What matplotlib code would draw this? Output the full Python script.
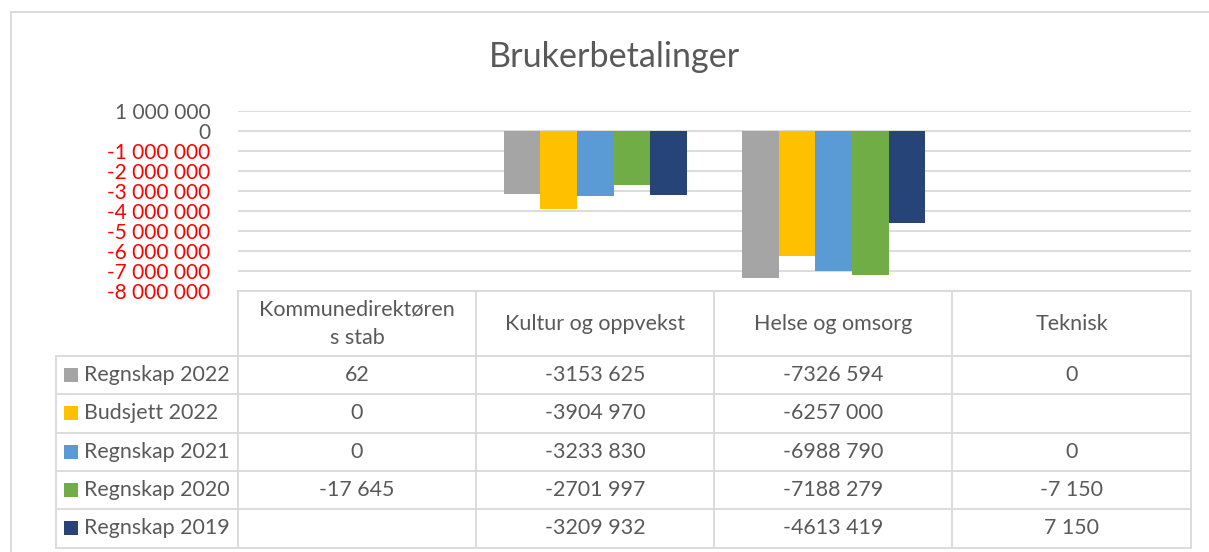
import matplotlib
matplotlib.use("Agg")
import matplotlib.pyplot as plt
from matplotlib.lines import Line2D
from matplotlib.patches import Rectangle
import numpy as np

plt.rcParams['font.family'] = ['Lato', 'DejaVu Sans']

categories = ["Kommunedirektøren\ns stab", "Kultur og oppvekst", "Helse og omsorg", "Teknisk"]
series_names = ["Regnskap 2022", "Budsjett 2022", "Regnskap 2021", "Regnskap 2020", "Regnskap 2019"]
regnskap_2022 = [62, -3153625, -7326594, 0]
budsjett_2022 = [0, -3904970, -6257000, None]
regnskap_2021 = [0, -3233830, -6988790, 0]
regnskap_2020 = [-17645, -2701997, -7188279, -7150]
regnskap_2019 = [None, -3209932, -4613419, 7150]
series_values = [regnskap_2022, budsjett_2022, regnskap_2021, regnskap_2020, regnskap_2019]
colors = ["#A5A5A5", "#FFC000", "#5B9BD5", "#70AD47", "#264478"]
yticks = list(range(-8000000, 1000001, 1000000))

W, H = 1209, 552
fig = plt.figure(figsize=(W / 100, H / 100), dpi=100)
fig.patch.set_facecolor("white")

def fx(x):
    return x / W

def fy(y):
    return 1 - y / H

# plot area
left_px, right_px, top_px, bot_px = 238, 1191, 111, 291
ax = fig.add_axes([fx(left_px), fy(bot_px), fx(right_px - left_px), (bot_px - top_px) / H])
ax.set_xlim(-0.5, len(categories) - 0.5)
ax.set_ylim(yticks[0], yticks[-1])
for s in ax.spines.values():
    s.set_visible(False)
ax.set_yticks(yticks)
ax.yaxis.grid(True, color="#D9D9D9", linewidth=1.3)
ax.set_axisbelow(True)
ax.set_xticks([])
ax.tick_params(axis="y", length=0, pad=20)

def fmt_tick(v):
    s = f"{abs(v):,}".replace(",", " ")
    return ("-" if v < 0 else "") + s

ax.set_yticklabels([fmt_tick(v) for v in yticks], fontsize=15)
for lab, v in zip(ax.get_yticklabels(), yticks):
    lab.set_color("#FF0000" if v < 0 else "#595959")

n = len(series_values)
bw = 0.154
x = np.arange(len(categories))
for i, (vals, c) in enumerate(zip(series_values, colors)):
    v = np.array([np.nan if a is None else a for a in vals], dtype=float)
    ax.bar(x + (i - (n - 1) / 2) * bw, v, width=bw, color=c, linewidth=0, zorder=3)

# title
fig.text(fx(615), fy(57), "Brukerbetalinger", ha="center", va="center", fontsize=24.6, color="#595959")

# outer frame
gc = "#D9D9D9"
fig.add_artist(Line2D([fx(11), fx(11)], [fy(12), fy(H + 5)], color=gc, linewidth=1.3))
fig.add_artist(Line2D([fx(11), fx(W + 5)], [fy(12), fy(12)], color=gc, linewidth=1.3))

# data table
col_edges = [238, 476, 714, 952, 1191]
leg_left = 56
hdr_top, hdr_bot = 291, 356
row_h = 38.3
row_edges = [hdr_bot + k * row_h for k in range(n + 1)]
tc = "#595959"
tl = 1.3

fig.add_artist(Line2D([fx(col_edges[0]), fx(col_edges[-1])], [fy(hdr_top)] * 2, color=gc, linewidth=tl))
for yb in row_edges:
    fig.add_artist(Line2D([fx(leg_left), fx(col_edges[-1])], [fy(yb)] * 2, color=gc, linewidth=tl))
for xe in col_edges:
    fig.add_artist(Line2D([fx(xe)] * 2, [fy(hdr_top), fy(row_edges[-1])], color=gc, linewidth=tl))
fig.add_artist(Line2D([fx(leg_left)] * 2, [fy(row_edges[0]), fy(row_edges[-1])], color=gc, linewidth=tl))

for j, cat in enumerate(categories):
    cx = (col_edges[j] + col_edges[j + 1]) / 2
    fig.text(fx(cx), fy((hdr_top + hdr_bot) / 2), cat, ha="center", va="center",
             fontsize=15.5, color=tc, linespacing=1.55)

def fmt_cell(v):
    if v is None:
        return ""
    a = abs(v)
    if a >= 1000:
        s = f"{a // 1000} {a % 1000:03d}"
    else:
        s = str(a)
    return ("-" if v < 0 else "") + s

for i, (name, vals, c) in enumerate(zip(series_names, series_values, colors)):
    cy = (row_edges[i] + row_edges[i + 1]) / 2
    sq = 14
    fig.add_artist(Rectangle((fx(64), fy(cy + sq / 2)), sq / W, sq / H, color=c, linewidth=0))
    fig.text(fx(84), fy(cy), name, ha="left", va="center", fontsize=15.4, color=tc)
    for j, v in enumerate(vals):
        cx = (col_edges[j] + col_edges[j + 1]) / 2
        fig.text(fx(cx), fy(cy), fmt_cell(v), ha="center", va="center", fontsize=15.4, color=tc)

fig.savefig("out.png", dpi=100)
